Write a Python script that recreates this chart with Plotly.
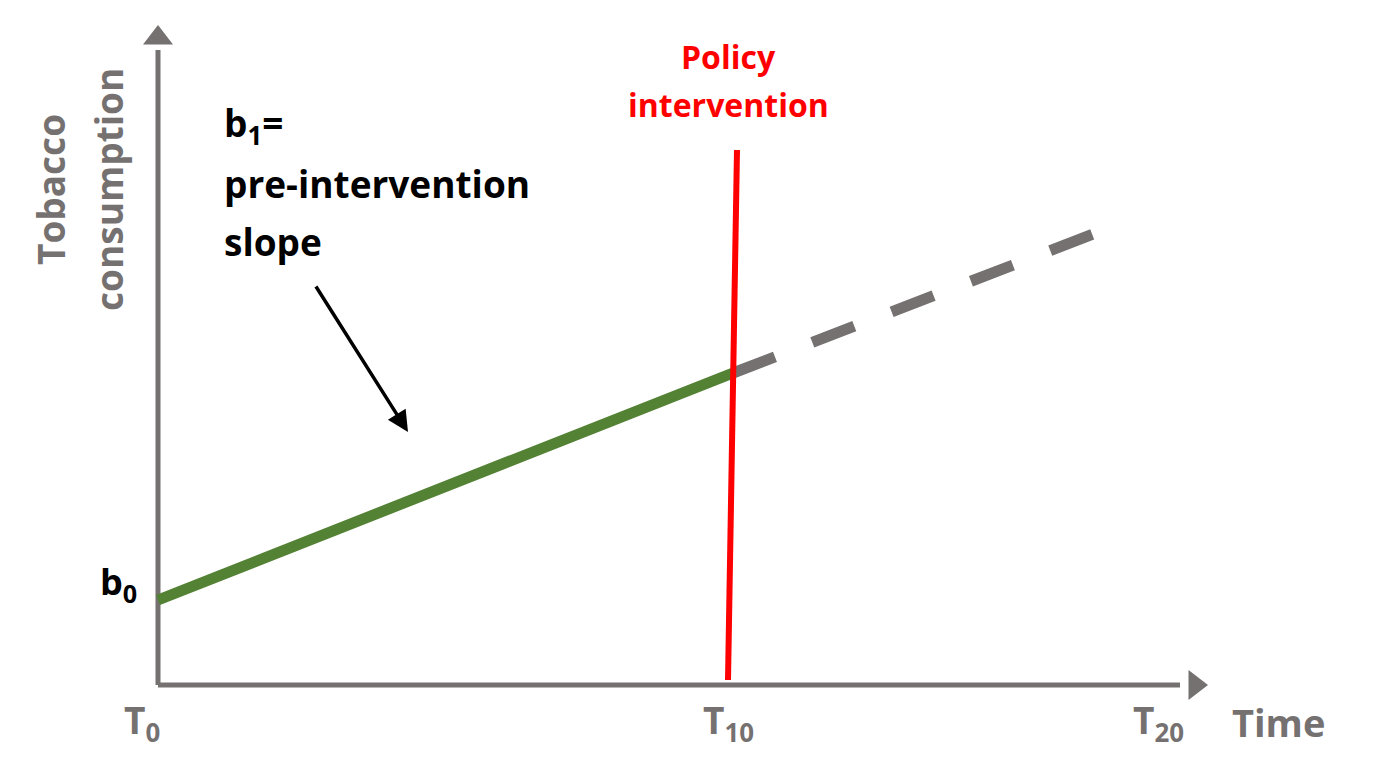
import plotly.graph_objects as go

# schematic coordinates (canvas units: x right, y down)
pre_x = [158, 733]; pre_y = [600, 373]
cf_x = [733, 1122]; cf_y = [373, 223]
pol_x = [737, 728]; pol_y = [150, 680]
tick_labels = ["T<sub>0</sub>", "T<sub>10</sub>", "T<sub>20</sub>"]
tick_x = [142, 728, 1158]

gray = "#767171"
fig = go.Figure()
fig.add_trace(go.Scatter(x=[158, 1180], y=[685, 685], mode="lines", line=dict(color=gray, width=5)))
fig.add_trace(go.Scatter(x=[158, 158], y=[685, 50], mode="lines", line=dict(color=gray, width=5)))
fig.add_trace(go.Scatter(x=pre_x, y=pre_y, mode="lines", line=dict(color="#548235", width=11)))
fig.add_trace(go.Scatter(x=cf_x, y=cf_y, mode="lines", line=dict(color=gray, width=11, dash="45px,40px")))
fig.add_trace(go.Scatter(x=pol_x, y=pol_y, mode="lines", line=dict(color="#ff0000", width=6)))
fig.add_trace(go.Scatter(x=1200 and [1195], y=[685], mode="markers", marker=dict(symbol="triangle-right", size=26, color=gray)))
fig.add_trace(go.Scatter(x=[158], y=[38], mode="markers", marker=dict(symbol="triangle-up", size=26, color=gray)))

F = "Open Sans"
ann = [
    dict(x=408, y=432, ax=315, ay=285, axref="x", ayref="y", showarrow=True, arrowhead=2, arrowsize=1.2, arrowwidth=3.5, arrowcolor="black", text=""),
    dict(x=222, y=125, text="<b>b<sub>1</sub>=</b>", xanchor="left", font=dict(size=37, color="black")),
    dict(x=222, y=183, text="<b>pre-intervention</b>", xanchor="left", font=dict(size=37, color="black")),
    dict(x=222, y=241, text="<b>slope</b>", xanchor="left", font=dict(size=37, color="black")),
    dict(x=728, y=56, text="<b>Policy</b>", font=dict(size=32, color="#ff0000")),
    dict(x=728, y=104, text="<b>intervention</b>", font=dict(size=32, color="#ff0000")),
    dict(x=118, y=583, text="<b>b<sub>0</sub></b>", font=dict(size=36, color="black")),
    dict(x=1278, y=722, text="<b>Time</b>", font=dict(size=38, color=gray)),
    dict(x=50, y=190, text="<b>Tobacco</b>", textangle=-90, font=dict(size=37, color=gray)),
    dict(x=108, y=190, text="<b>consumption</b>", textangle=-90, font=dict(size=37, color=gray)),
]
for t, x in zip(tick_labels, tick_x):
    ann.append(dict(x=x, y=722, text="<b>" + t + "</b>", font=dict(size=37, color=gray)))
for a in ann:
    a.setdefault("showarrow", False)
    a["xref"] = "x"; a["yref"] = "y"
    a.setdefault("font", {})
    a["font"]["family"] = F
fig.update_layout(annotations=ann, showlegend=False, width=1395, height=783,
                  margin=dict(l=0, r=0, t=0, b=0), plot_bgcolor="white", paper_bgcolor="white",
                  xaxis=dict(range=[8, 1403], visible=False),
                  yaxis=dict(range=[791, 8], visible=False))
fig.write_html("out.html")
